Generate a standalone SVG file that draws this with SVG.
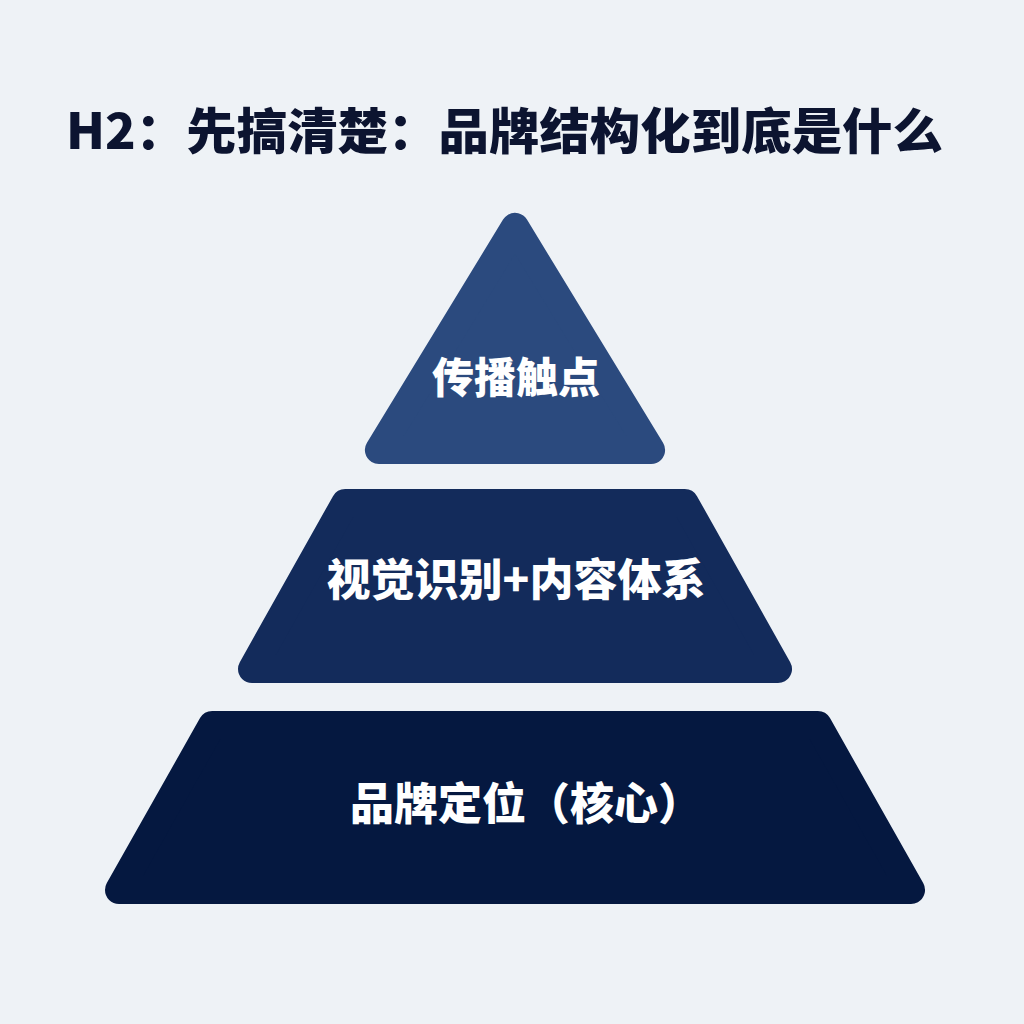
<svg xmlns="http://www.w3.org/2000/svg" width="1024" height="1024" viewBox="0 0 1024 1024">
  <style>
    .title { font-family: "Noto Sans CJK SC", "Noto Sans", sans-serif; font-weight: 900; fill: #0c1430; }
    .label { font-family: "Noto Sans CJK SC", "Noto Sans", sans-serif; font-weight: 900; fill: #ffffff; text-anchor: middle; }
    .tier { stroke-width: 28; stroke-linejoin: round; }
  </style>
  <rect width="1024" height="1024" fill="#eef2f6"/>
  <text class="title" x="66" y="149" font-size="49" textLength="877" lengthAdjust="spacingAndGlyphs">H2：先搞清楚：品牌结构化到底是什么</text>
  <g id="tier-top">
    <polygon class="tier" points="515,226.9 378.9,450 651.1,450" fill="#2b4a7e" stroke="#2b4a7e"/>
    <text class="label" x="516" y="393" font-size="42">传播触点</text>
  </g>
  <g id="tier-middle">
    <polygon class="tier" points="345.2,503 684.8,503 778,669 252,669" fill="#132b5b" stroke="#132b5b"/>
    <text class="label" x="516" y="596" font-size="44">视觉识别+内容体系</text>
  </g>
  <g id="tier-bottom">
    <polygon class="tier" points="212.2,725 817.8,725 911,890 119,890" fill="#051840" stroke="#051840"/>
    <text class="label" x="526" y="820" font-size="44">品牌定位（核心）</text>
  </g>
  <g id="connectors"/>
</svg>
